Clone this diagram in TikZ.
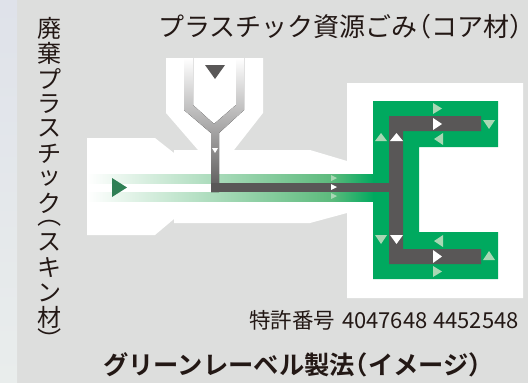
\documentclass[tikz,border=0pt]{standalone}
\usepackage{fontspec}
\usepackage{graphicx}
\setmainfont{Noto Sans CJK JP}
\newfontfamily\boldjp{Noto Sans CJK JP Bold}
\usetikzlibrary{shapes.geometric}
\definecolor{bgmain}{HTML}{DDDEDD}
\definecolor{striptop}{HTML}{DFE2EA}
\definecolor{stripbot}{HTML}{E9EDEC}
\definecolor{darkrun}{HTML}{595757}
\definecolor{greenmain}{HTML}{00A95F}
\definecolor{greenmid}{HTML}{5CBA7C}
\definecolor{greentri}{HTML}{2F7F55}
\definecolor{lighttri}{HTML}{A8D8B4}
\definecolor{txt}{HTML}{231815}
\newcommand{\vc}[1]{\hbox to 26pt{\hss\vbox to 25pt{\vss\hbox{#1}\vss}\hss}}
\newcommand{\vpo}[1]{\hbox to 26pt{\hss\vbox to 14pt{\vss\hbox{\rotatebox[origin=c]{-90}{#1}}\vskip 3pt}\hss}}
\newcommand{\vpc}[1]{\hbox to 26pt{\hss\vbox to 14pt{\vskip-3pt\hbox{\rotatebox[origin=c]{-90}{#1}}\vss}\hss}}
\tikzset{
  x=1pt,y=-1pt,
  whiteshape/.style={fill=white,draw=none},
  ltri/.style={fill=lighttri,draw=none},
  wtri/.style={fill=white,draw=none},
  labeltxt/.style={inner sep=0pt,text=txt}
}
\begin{document}
\begin{tikzpicture}
\useasboundingbox (0,0) rectangle (528,383);
\fill[bgmain] (0,0) rectangle (528,383);
\fill[top color=striptop,bottom color=stripbot,draw=none] (0,0) rectangle (17,383);
% extruder body
\fill[whiteshape] (87,138)--(155,138)--(174,153)--(174,150)--(198,150)--(166,113)--(166,58)--(263,58)--(263,113)--(234,150)--(310,150)--(347,161)--(347,83)--(523,83)--(523,298)--(347,298)--(347,213)--(310,223)--(174,223)--(174,219)--(155,235)--(87,235)--cycle;
% skin runner
\fill[left color=white,right color=greenmid,draw=none] (87,174) rectangle (332,183);
\fill[left color=white,right color=greenmid,draw=none] (87,192) rectangle (332,201);
\fill[left color=greenmid,right color=greenmain,draw=none] (332,174) rectangle (374,201);
\fill[greenmain] (373,101)--(498,101)--(498,147)--(419,147)--(419,232)--(498,232)--(498,279)--(373,279)--cycle;
% core runner
\fill[top color=white,bottom color=darkrun,draw=none] (184,58)--(193,58)--(193,105)--(214,124)--(236,105)--(236,58)--(244,58)--(244,110)--(219,133)--(219,192)--(211,192)--(211,133)--(184,110)--cycle;
\fill[darkrun] (211,183) rectangle (389,192);
\fill[darkrun] (389,116)--(481,116)--(481,131)--(403,131)--(403,249)--(481,249)--(481,264)--(389,264)--cycle;
% arrowheads
\fill[greentri] (112,178)--(112,197)--(127,187.5)--cycle;
\fill[darkrun] (205,65)--(225,65)--(215,79)--cycle;
\fill[wtri] (212,148)--(218,148)--(215,153)--cycle;
\fill[ltri] (331,175)--(331,181)--(337,178)--cycle;
\fill[wtri] (331,184)--(331,190)--(337,187)--cycle;
\fill[ltri] (331,193)--(331,199)--(337,196)--cycle;
\fill[ltri] (433,103)--(433,114)--(442,108.5)--cycle;
\fill[wtri] (433,118)--(433,130)--(442,124)--cycle;
\fill[ltri] (443,133)--(443,145)--(434,139)--cycle;
\fill[ltri] (483,120)--(495,120)--(489,129)--cycle;
\fill[ltri] (375,141)--(387,141)--(381,133)--cycle;
\fill[wtri] (390,141)--(403,141)--(396.5,133)--cycle;
\fill[ltri] (375,235)--(387,235)--(381,244)--cycle;
\fill[wtri] (390,235)--(403,235)--(396.5,244)--cycle;
\fill[ltri] (443,235)--(443,247)--(434,241)--cycle;
\fill[wtri] (433,250)--(433,263)--(442,256.5)--cycle;
\fill[ltri] (433,266)--(433,277)--(442,271.5)--cycle;
\fill[ltri] (483,260)--(495,260)--(489,251)--cycle;
% labels
\node[labeltxt,anchor=west] (core) at (158,26.5) {\fontsize{26pt}{28pt}\selectfont プラスチック資源ごみ\hspace{-12pt}（コア材）\hspace{-12pt}};
\node[labeltxt,anchor=north] (skin) at (50,16) {\fontsize{24pt}{25pt}\selectfont\vbox{\offinterlineskip
\vc{廃}\vc{棄}\vc{プ}\vc{ラ}\vc{ス}\vc{チ}\vc{ッ}\vc{ク}\vpo{（}\vc{ス}\vc{キ}\vc{ン}\vc{材}\vpc{）}}};
\node[labeltxt,anchor=west] (patent) at (249,320.5) {\fontsize{21.5pt}{23pt}\selectfont 特許番号\hspace{2pt} {\fontsize{22pt}{23pt}\selectfont 4047648}\hspace{1pt} {\fontsize{22pt}{23pt}\selectfont 4452548}};
\node[labeltxt,anchor=west] (title) at (103,364.5) {\fontsize{25.3pt}{27pt}\boldjp\selectfont グリーンレーベル製法\hspace{-12pt}（イメージ）\hspace{-12pt}};
\end{tikzpicture}
\end{document}
